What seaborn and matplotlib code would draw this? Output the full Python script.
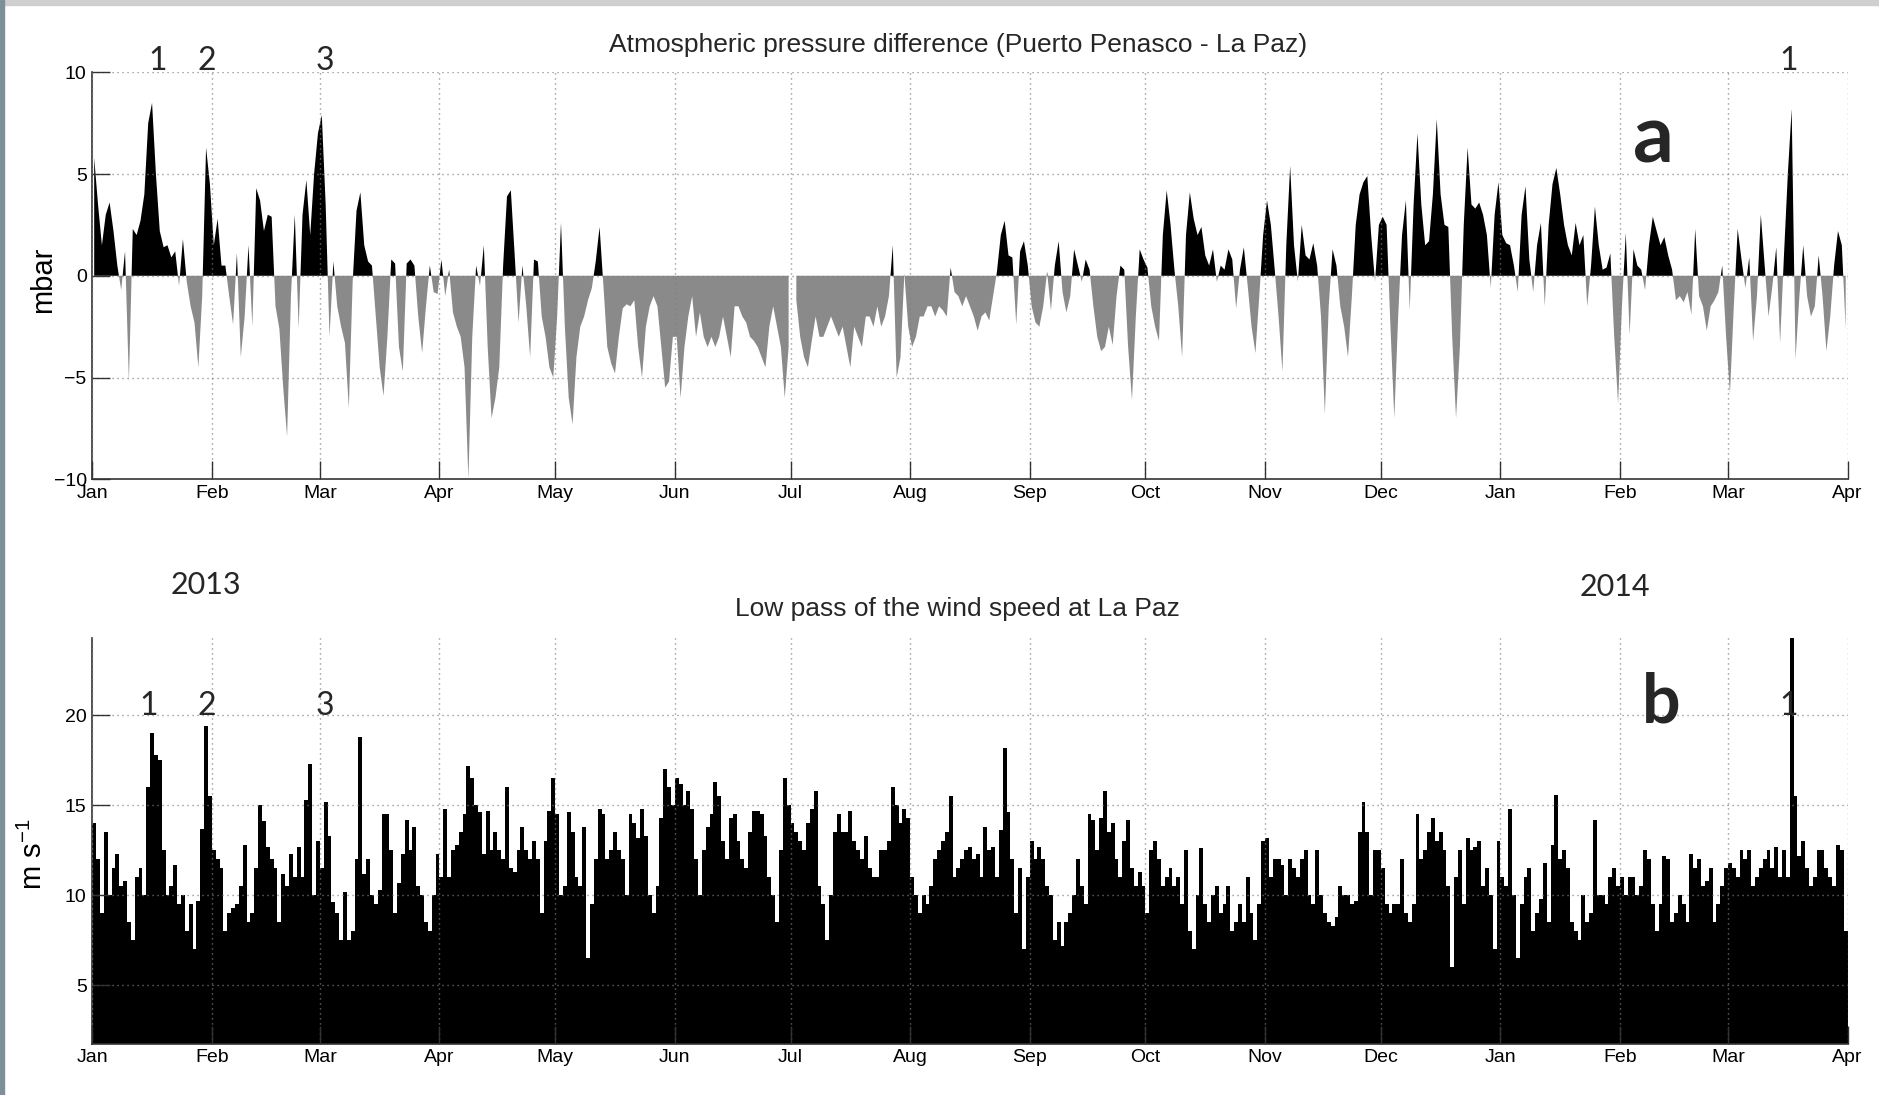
import numpy as np
import pandas as pd
import matplotlib
matplotlib.use("Agg")
import matplotlib.pyplot as plt
import matplotlib.dates as mdates
import seaborn as sns
from matplotlib.patches import Rectangle

# =========================
# data (daily values, 2013-01-01 .. 2014-03-31)
# =========================
start_date = "2013-01-01"
end_date = "2014-04-01"

# pressure difference Puerto Penasco - La Paz (mbar)
pressure_jan_apr = [
    5.8, 3.5, 1.5, 3.0, 3.6, 2.2, 0.5, -0.7, 1.2, -5.2,
    2.3, 2.0, 2.7, 4.0, 7.5, 8.5, 5.0, 2.2, 1.4, 1.5,
    0.9, 1.2, -0.5, 1.8, -0.3, -1.5, -2.3, -4.5, -1.0, 6.3,
    4.5, 1.5, 2.8, 0.5, 0.5, -1.0, -2.4, 1.1, -4.0, -2.0,
    1.5, -2.5, 4.3, 3.7, 2.2, 3.0, 2.9, -1.5, -2.6, -5.5,
    -7.9, -1.0, 3.0, -2.6, 3.0, 4.7, 2.0, 5.0, 7.0, 7.9,
    3.5, -3.0, 0.7, -1.5, -2.5, -3.3, -6.5, -0.3, 3.2, 4.1,
    1.5, 0.7, 0.5, -2.0, -4.5, -5.9, -3.0, 0.8, 0.6, -3.5,
    -4.7, 0.6, 0.8, 0.5, -2.0, -3.8, -1.5, 0.5, -0.8, -0.9,
    0.8, -1.0, 0.3, -1.8, -2.5, -3.0, -4.5, -10.0, -3.0, 0.5,
    -0.5, 1.5, -3.5, -7.0, -6.0, -4.5, 0.5, 3.9, 4.2, 1.0,
]
pressure_may_aug = [
    -2.3, 0.5, -1.5, -4.0, 0.8, 0.7, -2.0, -3.0, -4.5, -5.0,
    -2.0, 2.6, -2.5, -6.0, -7.3, -4.0, -2.5, -2.0, -1.2, -0.6,
    0.7, 2.4, -0.5, -3.5, -4.3, -4.8, -3.0, -1.6, -1.4, -1.5,
    -1.2, -3.5, -5.0, -2.5, -1.5, -1.0, -1.5, -3.5, -5.5, -5.2,
    -3.0, -3.0, -6.0, -3.5, -2.0, -1.0, -3.0, -1.8, -3.0, -3.5,
    -3.0, -3.5, -3.0, -2.0, -3.0, -4.0, -1.5, -1.5, -2.0, -2.3,
    -3.0, -3.2, -3.5, -4.0, -4.5, -2.5, -1.5, -2.5, -3.5, -6.0,
    -3.5, np.nan, -1.2, -3.0, -4.0, -4.5, -3.2, -2.0, -3.0, -3.0,
    -2.5, -2.0, -2.5, -3.0, -2.5, -3.5, -4.5, -2.5, -3.0, -3.5,
    -2.0, -2.0, -2.5, -1.5, -2.5, -2.0, -1.0, 1.5, -5.0, -4.0,
    0.1, -2.5, -3.5, -3.0, -2.0, -2.0, -1.5, -1.5, -2.0, -1.5,
    -1.7, -2.0, 0.4, -0.8, -1.0,
]
pressure_aug_dec = [
    -1.5, -1.0, -1.5, -2.0, -2.7,
    -2.0, -1.8, -2.2, -1.0, 0.2, 2.0, 2.7, 1.0, 0.9, -2.4,
    1.2, 1.7, 0.5, -1.5, -2.3, -2.5, -1.5, 0.2, -1.7, 0.5,
    1.7, -0.8, -1.8, -1.0, 1.3, 0.5, -0.3, 0.8, 0.3, -1.5,
    -3.0, -3.7, -3.5, -2.5, -3.4, -1.0, 0.5, 0.3, -3.5, -6.1,
    -2.0, 1.3, 0.8, 0.4, -1.5, -2.5, -3.2, 2.0, 4.2, 2.5,
    0.3, -1.5, -4.0, 2.0, 4.1, 2.8, 2.0, 2.4, 1.0, 0.5,
    1.3, -0.3, 0.5, 0.3, 1.3, 0.8, -1.6, 0.3, 1.4, -0.5,
    -2.5, -3.8, -1.0, 2.0, 3.7, 2.5, 0.3, -2.0, -4.7, 1.5,
    5.4, 1.5, -0.3, 2.5, 1.0, 0.8, 1.6, 0.5, -2.0, -6.8,
    -1.5, 1.3, 0.5, -1.5, -2.5, -4.0, -1.0, 2.5, 4.0, 4.6,
    4.9, 2.0, -0.3, 2.5, 2.9, 2.5, -2.5, -7.0, -2.0, 2.0,
    3.7, -1.7, 3.5, 7.0, 3.5, 1.5, 1.7, 4.0, 7.7, 4.0,
]
pressure_dec_mar = [
    2.5, 2.4, -3.0, -7.0, -3.5, 2.5, 6.3, 3.5, 3.3, 3.6,
    3.0, 2.0, -0.6, 3.0, 4.6, 2.0, 1.6, 1.5, 0.5, -0.8,
    3.0, 4.4, 0.8, -0.8, 1.5, 2.6, -1.5, 2.5, 4.5, 5.3,
    4.0, 2.5, 1.5, 1.0, 2.6, 1.5, 2.0, -1.5, 0.5, 3.4,
    1.5, 0.3, 0.4, 1.1, -3.0, -6.3, -1.5, 2.1, -2.9, 1.3,
    0.5, 0.3, -0.7, 1.5, 2.9, 2.2, 1.5, 1.9, 1.0, 0.3,
    -1.2, -1.0, -1.3, -0.8, -1.9, 2.3, -1.0, -1.5, -2.7, -1.5,
    -1.2, -0.8, 0.5, -3.0, -5.8, -1.5, 2.3, 0.8, -0.6, 0.9,
    -3.2, -1.0, 3.0, 0.5, -2.0, -0.5, 1.4, -3.3, 1.0, 5.0,
    8.2, -4.1, -1.0, 1.5, -1.0, -2.0, -1.5, 1.0, -1.0, -3.7,
    -2.0, 0.5, 2.2, 1.5, -2.6,
]

# low-passed wind speed at La Paz (m/s)
wind_jan_apr = [
    14.0, 12.0, 9.0, 13.5, 10.0, 11.5, 12.3, 10.5, 10.8, 8.5,
    7.5, 11.0, 11.5, 10.0, 16.0, 19.0, 17.8, 17.5, 12.5, 10.0,
    10.5, 11.7, 9.5, 10.0, 8.0, 9.5, 7.0, 9.7, 13.7, 19.4,
    15.5, 12.5, 12.0, 11.5, 8.0, 9.0, 9.3, 9.5, 10.5, 12.8,
    8.5, 9.0, 11.5, 15.0, 14.1, 12.7, 12.0, 11.5, 8.5, 11.2,
    10.5, 12.3, 11.0, 12.7, 11.0, 15.3, 17.3, 10.0, 13.0, 11.5,
    15.2, 13.3, 9.6, 9.0, 7.5, 10.2, 7.5, 8.0, 12.0, 18.8,
    11.2, 12.0, 10.0, 9.5, 10.3, 14.5, 14.5, 12.5, 9.0, 10.7,
    12.3, 14.2, 12.5, 13.8, 10.5, 10.0, 8.5, 8.0, 10.0, 12.3,
    11.0, 14.8, 11.0, 12.5, 12.8, 13.5, 14.5, 17.2, 16.5, 15.0,
    14.6, 12.3, 14.7, 12.5, 13.5, 12.5, 12.0, 16.0, 11.5, 11.3, 12.5,
]
wind_may_aug = [
    13.8, 12.5, 12.0, 13.0, 12.0, 9.0, 13.0, 14.7, 16.5, 14.5,
    10.0, 10.5, 14.6, 13.5, 11.0, 10.5, 13.8, 6.5, 9.5, 12.0,
    14.8, 14.5, 12.0, 12.5, 13.5, 12.5, 12.0, 10.0, 14.5, 14.0,
    13.2, 14.8, 13.3, 10.0, 9.0, 10.5, 14.3, 17.0, 16.0, 15.0,
    16.5, 16.2, 15.0, 15.8, 14.8, 12.0, 10.0, 12.5, 13.8, 14.5,
    16.3, 15.5, 13.0, 12.0, 14.3, 14.5, 13.0, 12.0, 11.5, 13.5,
    14.7, 14.7, 14.5, 13.3, 11.0, 10.0, 8.5, 12.5, 16.5, 15.0,
    14.0, 13.5, 13.0, 12.5, 14.0, 14.8, 15.8, 10.5, 9.5, 7.5,
    10.0, 13.5, 14.5, 13.5, 13.5, 14.7, 13.0, 12.5, 12.0, 13.3,
    11.5, 11.0, 11.0, 12.5, 12.5, 13.0, 16.0, 15.0, 14.0, 14.8,
    14.3, 11.0, 10.0, 9.0, 10.0, 9.5, 10.5, 12.0, 12.5, 13.0,
    13.5, 15.5, 11.0, 11.5, 12.0, 12.5, 12.7, 12.0, 12.3,
]
wind_aug_dec = [
    11.0, 13.8, 12.5, 12.7, 11.0, 13.6, 18.2, 14.6, 12.0, 9.0,
    11.5, 7.0, 11.0, 13.0, 12.0, 12.7, 12.0, 10.5, 10.0, 7.5,
    8.5, 7.2, 8.5, 9.0, 10.0, 12.0, 10.5, 9.5, 14.5, 14.2,
    12.5, 14.3, 15.8, 13.5, 14.0, 12.0, 11.0, 13.0, 14.2, 11.5,
    10.5, 11.3, 10.5, 9.0, 12.5, 13.0, 12.0, 10.5, 11.0, 11.5,
    10.5, 11.0, 9.5, 12.5, 8.0, 7.0, 10.0, 12.6, 9.5, 8.5,
    10.0, 10.5, 9.0, 9.5, 10.5, 8.0, 8.5, 9.5, 8.5, 11.0,
    9.0, 7.5, 9.5, 13.0, 13.2, 11.0, 12.0, 12.0, 11.7, 10.0,
    12.0, 11.5, 11.0, 12.0, 12.5, 10.0, 9.5, 12.5, 10.0, 9.0,
    8.5, 8.3, 8.8, 10.5, 10.0, 10.0, 9.5, 9.7, 13.5, 15.2,
    13.5, 10.0, 12.5, 12.5, 11.5, 9.5, 9.0, 9.5, 9.5, 12.0,
    9.0, 8.5, 9.5, 14.5, 12.0, 12.5, 13.5, 14.3, 13.0, 13.5,
]
wind_dec_mar = [
    12.5, 10.5, 6.0, 11.0, 12.5, 9.5, 13.2, 12.5, 12.7, 13.0,
    10.5, 11.5, 10.0, 7.0, 13.0, 11.0, 10.5, 14.8, 10.0, 6.5,
    9.5, 11.0, 11.5, 8.0, 9.0, 9.8, 11.8, 8.5, 12.8, 15.6,
    12.0, 12.5, 11.5, 8.5, 8.0, 7.5, 10.0, 8.5, 9.0, 14.2,
    10.0, 10.0, 9.5, 11.0, 11.5, 10.5, 11.0, 10.0, 11.0, 11.0,
    10.0, 10.5, 12.5, 12.0, 9.5, 8.0, 9.5, 12.2, 12.0, 8.5,
    9.0, 10.0, 9.5, 8.5, 12.3, 11.5, 12.0, 10.5, 10.8, 11.5,
    8.5, 9.5, 10.5, 11.5, 11.8, 11.5, 11.0, 12.5, 12.0, 12.5,
    10.5, 11.0, 11.5, 12.0, 12.5, 11.5, 12.7, 11.0, 12.5, 11.0,
    24.3, 15.5, 12.2, 13.0, 11.5, 10.5, 11.0, 12.5, 12.5, 11.5,
    11.0, 10.5, 12.8, 12.5, 8.0,
]

pressure = np.array(pressure_jan_apr + pressure_may_aug + pressure_aug_dec + pressure_dec_mar)
wind = np.array(wind_jan_apr + wind_may_aug + wind_aug_dec + wind_dec_mar)

days = pd.date_range(start_date, periods=len(pressure), freq="D")
months = pd.date_range(start_date, end_date, freq="MS")

# event labels: (date, text)
events_a = [("2013-01-18", "1"), ("2013-01-30 16:00", "2"), ("2013-03-02 08:00", "3"), ("2014-03-16 18:00", "1")]
events_b = [("2013-01-15 12:00", "1"), ("2013-01-30 16:00", "2"), ("2013-03-02 08:00", "3"), ("2014-03-16 14:00", "1")]

# =========================
# style
# =========================
sns.set_theme(style="white")
plt.rcParams["font.family"] = ["Liberation Sans", "DejaVu Sans"]
plt.rcParams["mathtext.default"] = "regular"

neg_gray = "#8a8a8a"
axis_col = "#333333"
grid_kw = dict(linestyle=(0, (0.8, 2.8)), color="#7f7f7f", linewidth=1.0)
annot_font = ["Lato", "DejaVu Sans"]

x = mdates.date2num(days)
xc = x + 0.5   # middle of each day
x0 = mdates.date2num(pd.Timestamp(start_date))
x1 = mdates.date2num(pd.Timestamp(end_date))
xt = mdates.date2num(months)


def dnum(s):
    return mdates.date2num(pd.Timestamp(s))


def style_axes(ax):
    ax.set_xlim(x0, x1)
    ax.set_xticks(xt)
    ax.set_xticklabels(months.strftime("%b"))
    ax.tick_params(axis="both", direction="in", length=13, width=1.0, color=axis_col,
                   labelsize=14, labelcolor="black", pad=4,
                   bottom=True, left=True, top=False, right=False)
    for side in ["top", "right"]:
        ax.spines[side].set_visible(False)
    for side in ["left", "bottom"]:
        ax.spines[side].set_color(axis_col)
        ax.spines[side].set_linewidth(1.2)
    ax.grid(True, **grid_kw)
    ax.set_axisbelow(False)
    ax.set_facecolor("white")


fig = plt.figure(figsize=(18.79, 10.95), dpi=100)
fig.patch.set_facecolor("white")

# =========================
# a) pressure difference
# =========================
ax1 = fig.add_axes([0.0491, 0.5623, 0.9342, 0.3717])
p = pressure
ax1.fill_between(xc, p, 0, where=np.nan_to_num(p) >= 0, interpolate=True,
                 color="black", linewidth=0, zorder=1)
ax1.fill_between(xc, p, 0, where=np.nan_to_num(p) <= 0, interpolate=True,
                 color=neg_gray, linewidth=0, zorder=1)
style_axes(ax1)
ax1.set_ylim(-10, 10)
ax1.set_yticks([-10, -5, 0, 5, 10])
ax1.set_ylabel("mbar", fontsize=21, color="black")
ax1.yaxis.set_label_coords(-0.020, 0.49)
ax1.text(0.493, 1.067, "Atmospheric pressure difference (Puerto Penasco - La Paz)",
         transform=ax1.transAxes, ha="center", va="center", fontsize=19)
for d, t in events_a:
    ax1.text(dnum(d), 10.11, t, ha="center", va="baseline", fontsize=23,
             family=annot_font, clip_on=False)
ax1.text(dnum("2014-02-09 17:00"), 5.59, "a", ha="center", va="baseline", fontsize=58,
         fontweight="bold", family=annot_font)

# =========================
# b) wind speed
# =========================
ax2 = fig.add_axes([0.0491, 0.0468, 0.9342, 0.3710])
ax2.bar(x, wind, width=1.0, align="edge", color="black", linewidth=0, zorder=1)
style_axes(ax2)
ax2.set_ylim(1.74, 24.33)
ax2.set_yticks([5, 10, 15, 20])
ax2.set_ylabel("m s$^{-1}$", fontsize=21, color="black")
ax2.yaxis.set_label_coords(-0.025, 0.467)
ax2.text(0.493, 1.070, "Low pass of the wind speed at La Paz",
         transform=ax2.transAxes, ha="center", va="center", fontsize=19)
for d, t in events_b:
    ax2.text(dnum(d), 20.0, t, ha="center", va="baseline", fontsize=23,
             family=annot_font, clip_on=False)
ax2.text(dnum("2014-02-11 19:00"), 19.59, "b", ha="center", va="baseline", fontsize=49,
         fontweight="bold", family=annot_font)
ax2.text(dnum("2013-01-30 12:00"), 26.74, "2013", ha="center", va="baseline", fontsize=22,
         family=annot_font, clip_on=False)
ax2.text(dnum("2014-01-30 16:00"), 26.64, "2014", ha="center", va="baseline", fontsize=22,
         family=annot_font, clip_on=False)

# screenshot frame edges
fig.patches.append(Rectangle((0, 1 - 5 / 1095), 1, 5 / 1095, transform=fig.transFigure,
                             color="#cfcfcf", zorder=0))
fig.patches.append(Rectangle((0, 0), 4 / 1879, 1, transform=fig.transFigure,
                             color="#7d8f99", zorder=0))

fig.savefig("out.png", dpi=100)
plt.close(fig)
